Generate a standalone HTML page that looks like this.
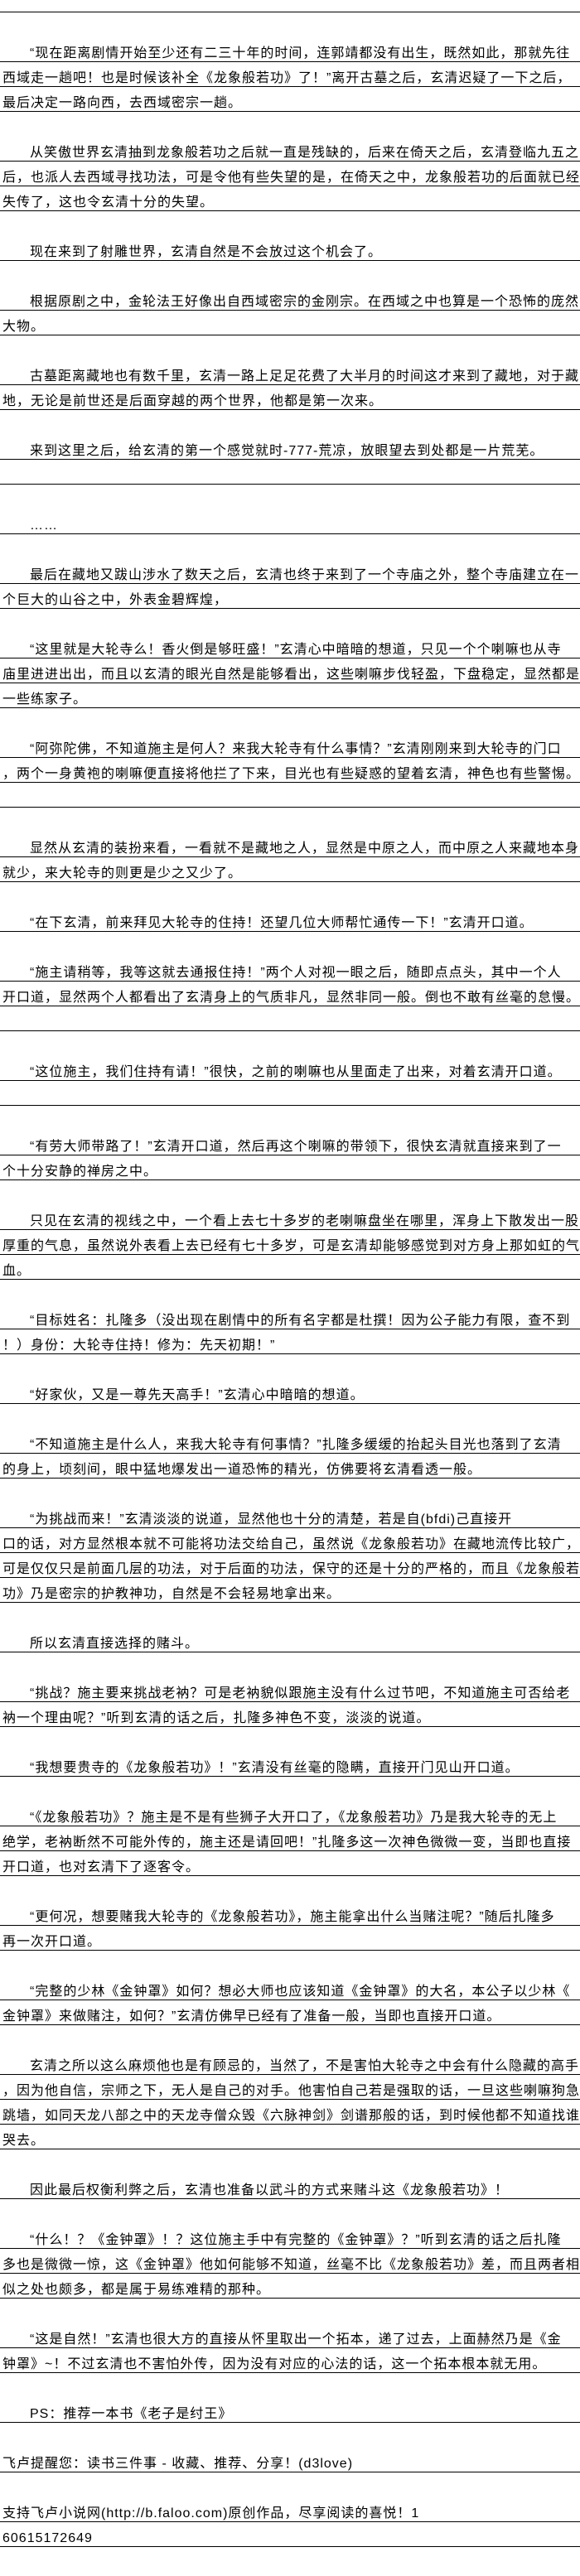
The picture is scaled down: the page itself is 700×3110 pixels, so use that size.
<!DOCTYPE html>
<html><head><meta charset="utf-8">
<style>
html,body{margin:0;padding:0;background:#fff;}
body{width:700px;height:3110px;position:relative;overflow:hidden;
font-family:"Liberation Sans","Noto Sans CJK SC","WenQuanYi Zen Hei",sans-serif;font-size:16px;color:#000;}
.l{position:absolute;left:0;width:700px;height:29px;border-bottom:1px solid #000;
white-space:nowrap;box-sizing:content-box;padding:0;}
.l span{display:block;padding-top:12px;line-height:16px;padding-left:3px;letter-spacing:1px;}
.l.i span{padding-left:36px;}
</style></head><body>
<div class="l" style="top:-15px"><span></span></div>
<div class="l i" style="top:45px"><span>“现在距离剧情开始至少还有二三十年的时间，连郭靖都没有出生，既然如此，那就先往</span></div>
<div class="l" style="top:75px"><span>西域走一趟吧！也是时候该补全《龙象般若功》了！”离开古墓之后，玄清迟疑了一下之后，</span></div>
<div class="l" style="top:105px"><span>最后决定一路向西，去西域密宗一趟。</span></div>
<div class="l i" style="top:165px"><span>从笑傲世界玄清抽到龙象般若功之后就一直是残缺的，后来在倚天之后，玄清登临九五之</span></div>
<div class="l" style="top:195px"><span>后，也派人去西域寻找功法，可是令他有些失望的是，在倚天之中，龙象般若功的后面就已经</span></div>
<div class="l" style="top:225px"><span>失传了，这也令玄清十分的失望。</span></div>
<div class="l i" style="top:285px"><span>现在来到了射雕世界，玄清自然是不会放过这个机会了。</span></div>
<div class="l i" style="top:345px"><span>根据原剧之中，金轮法王好像出自西域密宗的金刚宗。在西域之中也算是一个恐怖的庞然</span></div>
<div class="l" style="top:375px"><span>大物。</span></div>
<div class="l i" style="top:435px"><span>古墓距离藏地也有数千里，玄清一路上足足花费了大半月的时间这才来到了藏地，对于藏</span></div>
<div class="l" style="top:465px"><span>地，无论是前世还是后面穿越的两个世界，他都是第一次来。</span></div>
<div class="l i" style="top:525px"><span>来到这里之后，给玄清的第一个感觉就时-777-荒凉，放眼望去到处都是一片荒芜。</span></div>
<div class="l" style="top:555px"><span></span></div>
<div class="l i" style="top:615px"><span>……</span></div>
<div class="l i" style="top:675px"><span>最后在藏地又跋山涉水了数天之后，玄清也终于来到了一个寺庙之外，整个寺庙建立在一</span></div>
<div class="l" style="top:705px"><span>个巨大的山谷之中，外表金碧辉煌，</span></div>
<div class="l i" style="top:765px"><span>“这里就是大轮寺么！香火倒是够旺盛！”玄清心中暗暗的想道，只见一个个喇嘛也从寺</span></div>
<div class="l" style="top:795px"><span>庙里进进出出，而且以玄清的眼光自然是能够看出，这些喇嘛步伐轻盈，下盘稳定，显然都是</span></div>
<div class="l" style="top:825px"><span>一些练家子。</span></div>
<div class="l i" style="top:885px"><span>“阿弥陀佛，不知道施主是何人？来我大轮寺有什么事情？”玄清刚刚来到大轮寺的门口</span></div>
<div class="l" style="top:915px"><span>，两个一身黄袍的喇嘛便直接将他拦了下来，目光也有些疑惑的望着玄清，神色也有些警惕。</span></div>
<div class="l" style="top:945px"><span></span></div>
<div class="l i" style="top:1005px"><span>显然从玄清的装扮来看，一看就不是藏地之人，显然是中原之人，而中原之人来藏地本身</span></div>
<div class="l" style="top:1035px"><span>就少，来大轮寺的则更是少之又少了。</span></div>
<div class="l i" style="top:1095px"><span>“在下玄清，前来拜见大轮寺的住持！还望几位大师帮忙通传一下！”玄清开口道。</span></div>
<div class="l i" style="top:1155px"><span>“施主请稍等，我等这就去通报住持！”两个人对视一眼之后，随即点点头，其中一个人</span></div>
<div class="l" style="top:1185px"><span>开口道，显然两个人都看出了玄清身上的气质非凡，显然非同一般。倒也不敢有丝毫的怠慢。</span></div>
<div class="l" style="top:1215px"><span></span></div>
<div class="l i" style="top:1275px"><span>“这位施主，我们住持有请！”很快，之前的喇嘛也从里面走了出来，对着玄清开口道。</span></div>
<div class="l" style="top:1305px"><span></span></div>
<div class="l i" style="top:1365px"><span>“有劳大师带路了！”玄清开口道，然后再这个喇嘛的带领下，很快玄清就直接来到了一</span></div>
<div class="l" style="top:1395px"><span>个十分安静的禅房之中。</span></div>
<div class="l i" style="top:1455px"><span>只见在玄清的视线之中，一个看上去七十多岁的老喇嘛盘坐在哪里，浑身上下散发出一股</span></div>
<div class="l" style="top:1485px"><span>厚重的气息，虽然说外表看上去已经有七十多岁，可是玄清却能够感觉到对方身上那如虹的气</span></div>
<div class="l" style="top:1515px"><span>血。</span></div>
<div class="l i" style="top:1575px"><span>“目标姓名：扎隆多（没出现在剧情中的所有名字都是杜撰！因为公子能力有限，查不到</span></div>
<div class="l" style="top:1605px"><span>！）身份：大轮寺住持！修为：先天初期！”</span></div>
<div class="l i" style="top:1665px"><span>“好家伙，又是一尊先天高手！”玄清心中暗暗的想道。</span></div>
<div class="l i" style="top:1725px"><span>“不知道施主是什么人，来我大轮寺有何事情？”扎隆多缓缓的抬起头目光也落到了玄清</span></div>
<div class="l" style="top:1755px"><span>的身上，顷刻间，眼中猛地爆发出一道恐怖的精光，仿佛要将玄清看透一般。</span></div>
<div class="l i" style="top:1815px"><span>“为挑战而来！”玄清淡淡的说道，显然他也十分的清楚，若是自(bfdi)己直接开</span></div>
<div class="l" style="top:1845px"><span>口的话，对方显然根本就不可能将功法交给自己，虽然说《龙象般若功》在藏地流传比较广，</span></div>
<div class="l" style="top:1875px"><span>可是仅仅只是前面几层的功法，对于后面的功法，保守的还是十分的严格的，而且《龙象般若</span></div>
<div class="l" style="top:1905px"><span>功》乃是密宗的护教神功，自然是不会轻易地拿出来。</span></div>
<div class="l i" style="top:1965px"><span>所以玄清直接选择的赌斗。</span></div>
<div class="l i" style="top:2025px"><span>“挑战？施主要来挑战老衲？可是老衲貌似跟施主没有什么过节吧，不知道施主可否给老</span></div>
<div class="l" style="top:2055px"><span>衲一个理由呢？”听到玄清的话之后，扎隆多神色不变，淡淡的说道。</span></div>
<div class="l i" style="top:2115px"><span>“我想要贵寺的《龙象般若功》！”玄清没有丝毫的隐瞒，直接开门见山开口道。</span></div>
<div class="l i" style="top:2175px"><span>“《龙象般若功》？施主是不是有些狮子大开口了，《龙象般若功》乃是我大轮寺的无上</span></div>
<div class="l" style="top:2205px"><span>绝学，老衲断然不可能外传的，施主还是请回吧！”扎隆多这一次神色微微一变，当即也直接</span></div>
<div class="l" style="top:2235px"><span>开口道，也对玄清下了逐客令。</span></div>
<div class="l i" style="top:2295px"><span>“更何况，想要赌我大轮寺的《龙象般若功》，施主能拿出什么当赌注呢？”随后扎隆多</span></div>
<div class="l" style="top:2325px"><span>再一次开口道。</span></div>
<div class="l i" style="top:2385px"><span>“完整的少林《金钟罩》如何？想必大师也应该知道《金钟罩》的大名，本公子以少林《</span></div>
<div class="l" style="top:2415px"><span>金钟罩》来做赌注，如何？”玄清仿佛早已经有了准备一般，当即也直接开口道。</span></div>
<div class="l i" style="top:2475px"><span>玄清之所以这么麻烦他也是有顾忌的，当然了，不是害怕大轮寺之中会有什么隐藏的高手</span></div>
<div class="l" style="top:2505px"><span>，因为他自信，宗师之下，无人是自己的对手。他害怕自己若是强取的话，一旦这些喇嘛狗急</span></div>
<div class="l" style="top:2535px"><span>跳墙，如同天龙八部之中的天龙寺僧众毁《六脉神剑》剑谱那般的话，到时候他都不知道找谁</span></div>
<div class="l" style="top:2565px"><span>哭去。</span></div>
<div class="l i" style="top:2625px"><span>因此最后权衡利弊之后，玄清也准备以武斗的方式来赌斗这《龙象般若功》！</span></div>
<div class="l i" style="top:2685px"><span>“什么！？《金钟罩》！？这位施主手中有完整的《金钟罩》？”听到玄清的话之后扎隆</span></div>
<div class="l" style="top:2715px"><span>多也是微微一惊，这《金钟罩》他如何能够不知道，丝毫不比《龙象般若功》差，而且两者相</span></div>
<div class="l" style="top:2745px"><span>似之处也颇多，都是属于易练难精的那种。</span></div>
<div class="l i" style="top:2805px"><span>“这是自然！”玄清也很大方的直接从怀里取出一个拓本，递了过去，上面赫然乃是《金</span></div>
<div class="l" style="top:2835px"><span>钟罩》~！不过玄清也不害怕外传，因为没有对应的心法的话，这一个拓本根本就无用。</span></div>
<div class="l i" style="top:2895px"><span>PS：推荐一本书《老子是纣王》</span></div>
<div class="l" style="top:2955px"><span>飞卢提醒您：读书三件事 - 收藏、推荐、分享！(d3love)</span></div>
<div class="l" style="top:3015px"><span>支持飞卢小说网(http://b.faloo.com)原创作品，尽享阅读的喜悦！1</span></div>
<div class="l" style="top:3045px"><span>60615172649</span></div>
</body></html>
